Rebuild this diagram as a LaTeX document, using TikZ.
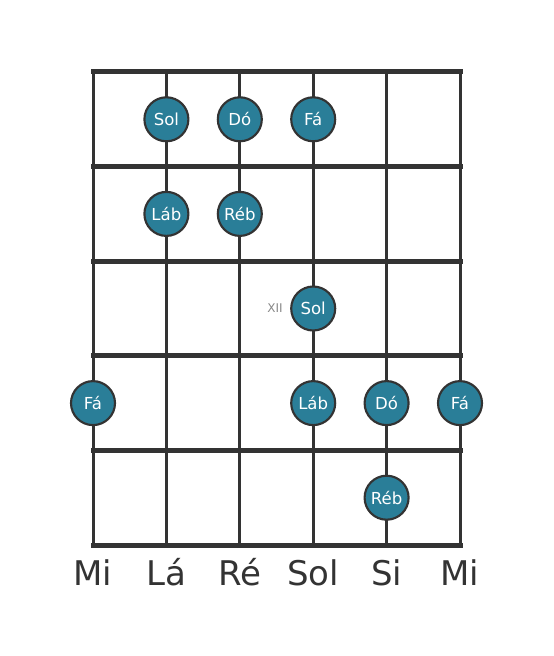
\documentclass[tikz,border=0pt]{standalone}
\usepackage{fontspec}
\setmainfont{DejaVu Sans}
\definecolor{linec}{HTML}{333333}
\definecolor{notec}{HTML}{2A7E98}
\definecolor{xiic}{HTML}{888888}
\begin{document}
\begin{tikzpicture}[x=0.75pt,y=-0.75pt,
  stringline/.style={draw=linec,line width=2.25pt},
  fretline/.style={draw=linec,line width=3.75pt,line cap=rect},
  note/.style={circle,draw=linec,line width=1.6pt,fill=notec,text=white,minimum size=33pt,inner sep=0pt,font=\fontsize{12.4pt}{14pt}\selectfont},
  strlabel/.style={text=linec,font=\fontsize{25.5pt}{30pt}\selectfont,inner sep=0pt},
  fretnum/.style={text=xiic,font=\fontsize{9pt}{10pt}\selectfont,inner sep=0pt}]
\useasboundingbox (0,0) rectangle (553,656);
% strings
\foreach \i/\x in {1/93,2/166.4,3/239.8,4/313.2,5/386.6,6/460} {
  \coordinate (s\i t) at (\x,72);
  \coordinate (s\i b) at (\x,545);
  \draw[stringline] (s\i t) -- (s\i b);
}
% frets
\foreach \j/\y in {0/72,1/166.6,2/261.2,3/355.8,4/450.4,5/545} {
  \coordinate (f\j l) at (93,\y);
  \coordinate (f\j r) at (460,\y);
  \draw[fretline] (f\j l) -- (f\j r);
}
% notes
\node[note] (n1) at (166.4,119.3) {Sol};
\node[note] (n2) at (239.8,119.3) {Dó};
\node[note] (n3) at (313.2,119.3) {Fá};
\node[note] (n4) at (166.4,213.9) {Láb};
\node[note] (n5) at (239.8,213.9) {Réb};
\node[note] (n6) at (313.2,308.5) {Sol};
\node[note] (n7) at (93,403.1) {Fá};
\node[note] (n8) at (313.2,403.1) {Láb};
\node[note] (n9) at (386.6,403.1) {Dó};
\node[note] (n10) at (460,403.1) {Fá};
\node[note] (n11) at (386.6,497.7) {Réb};
\node[fretnum] (xii) at (275,308.5) {XII};
% string labels
\foreach \i/\x/\t in {1/93/Mi,2/166.4/Lá,3/239.8/Ré,4/313.2/Sol,5/386.6/Si,6/460/Mi} {
  \node[strlabel,anchor=base] (l\i) at (\x,585) {\t};
}
\end{tikzpicture}
\end{document}
